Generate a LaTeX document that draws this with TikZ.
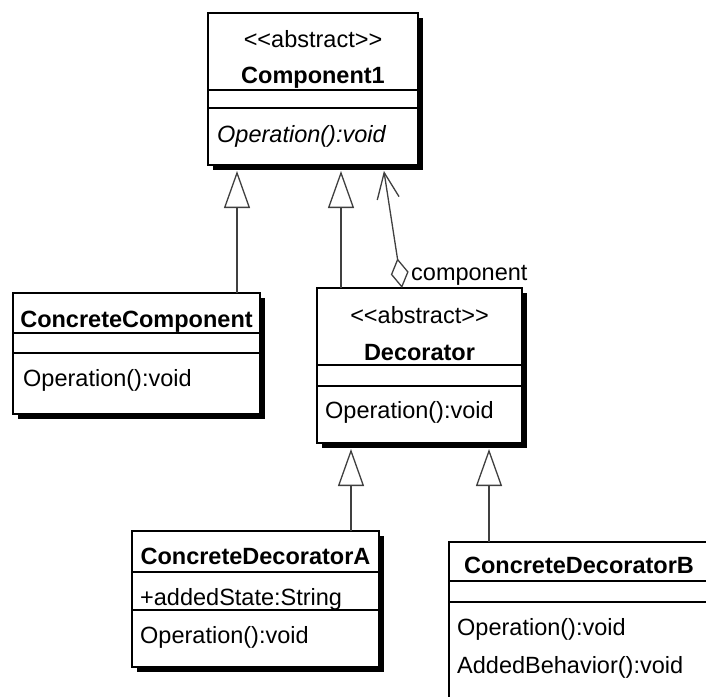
\documentclass[tikz,border=0pt]{standalone}
\usepackage{fontspec}
\setmainfont{Liberation Sans}
\usepackage{tikz}
\usetikzlibrary{arrows.meta, shadows, positioning}

\newcommand{\umlsize}{\fontsize{23.5}{28}\selectfont}

\tikzset{
    % Class box with the heavy black drop shadow
    umlclass/.style={
        draw=black,
        fill=white,
        line width=1.3pt,
        anchor=north west,
        inner sep=0pt,
        outer sep=0pt,
        drop shadow={
            shadow xshift=5pt,
            shadow yshift=-5pt,
            fill=black,
            opacity=1
        },
    },
    % Line between compartments
    divider/.style={
        draw=black,
        line width=1.3pt,
    },
    % Texts inside the boxes
    stereotype/.style={anchor=base, inner sep=0pt, font=\umlsize},
    classname/.style={anchor=base, inner sep=0pt, font=\umlsize\bfseries},
    member/.style={anchor=base west, inner sep=0pt, font=\umlsize},
    abstractop/.style={member, font=\umlsize\itshape},
    role/.style={anchor=base west, inner sep=0pt, font=\umlsize},
    % Generalization - open triangle
    inherit/.style={
        -{Triangle[open, length=37pt, width=26pt]},
        draw=black!75,
        line width=1.3pt,
        shorten >=6pt,
    },
    % Aggregation - open diamond and open arrow
    aggregate/.style={
        {Diamond[open, length=30pt, width=18pt]}-{Straight Barb[length=26pt, width=22pt]},
        draw=black!75,
        line width=1.3pt,
        shorten >=6pt,
    },
}

\begin{document}
\begin{tikzpicture}[x=1pt, y=-1pt]
    \useasboundingbox (0,0) rectangle (706,696);
    \clip (0,0) rectangle (706,696);
    \fill [white] (0,0) rectangle (706,696);

    % Component1
    \node (comp) [umlclass, minimum width=210pt, minimum height=152pt] at (208,13) {};
    \draw [divider] (comp.west |- 0,90) -- (comp.east |- 0,90);
    \draw [divider] (comp.west |- 0,108) -- (comp.east |- 0,108);
    \node (compStereo) [stereotype] at (313,47) {<{}<abstract>{}>};
    \node (compName) [classname] at (313,83) {Component1};
    \node (compOp) [abstractop] at (217,142) {Operation():void};

    % ConcreteComponent
    \node (concComp) [umlclass, minimum width=247pt, minimum height=121pt] at (13,293) {};
    \draw [divider] (concComp.west |- 0,333) -- (concComp.east |- 0,333);
    \draw [divider] (concComp.west |- 0,353) -- (concComp.east |- 0,353);
    \node (concCompName) [classname] at (136.5,327) {ConcreteComponent};
    \node (concCompOp) [member] at (23,386) {Operation():void};

    % Decorator
    \node (deco) [umlclass, minimum width=205pt, minimum height=155pt] at (317,288) {};
    \draw [divider] (deco.west |- 0,365) -- (deco.east |- 0,365);
    \draw [divider] (deco.west |- 0,386) -- (deco.east |- 0,386);
    \node (decoStereo) [stereotype] at (419.5,323) {<{}<abstract>{}>};
    \node (decoName) [classname] at (419.5,360) {Decorator};
    \node (decoOp) [member] at (325,418) {Operation():void};

    % ConcreteDecoratorA
    \node (decoA) [umlclass, minimum width=247pt, minimum height=136pt] at (132,531) {};
    \draw [divider] (decoA.west |- 0,572) -- (decoA.east |- 0,572);
    \draw [divider] (decoA.west |- 0,610) -- (decoA.east |- 0,610);
    \node (decoAName) [classname] at (255.5,564) {ConcreteDecoratorA};
    \node (decoAState) [member] at (140,605) {+addedState:String};
    \node (decoAOp) [member] at (140,643) {Operation():void};

    % ConcreteDecoratorB (runs past the edge)
    \node (decoB) [umlclass, minimum width=260pt, minimum height=170pt] at (449,542) {};
    \draw [divider] (decoB.west |- 0,581) -- (decoB.east |- 0,581);
    \draw [divider] (decoB.west |- 0,602) -- (decoB.east |- 0,602);
    \node (decoBName) [classname] at (579,573) {ConcreteDecoratorB};
    \node (decoBOp) [member] at (457,635) {Operation():void};
    \node (decoBBehav) [member] at (457,673) {AddedBehavior():void};

    % Relations
    \draw [inherit] (concComp.north -| 237,0) -- (comp.south -| 237,0);
    \draw [inherit] (deco.north -| 341,0) -- (comp.south -| 341,0);
    \draw [aggregate] (deco.north -| 402,0) -- (comp.south -| 383,0);
    \node (compRole) [role] at (411,280) {component};
    \draw [inherit] (decoA.north -| 351,0) -- (deco.south -| 351,0);
    \draw [inherit] (decoB.north -| 489,0) -- (deco.south -| 489,0);
\end{tikzpicture}
\end{document}
